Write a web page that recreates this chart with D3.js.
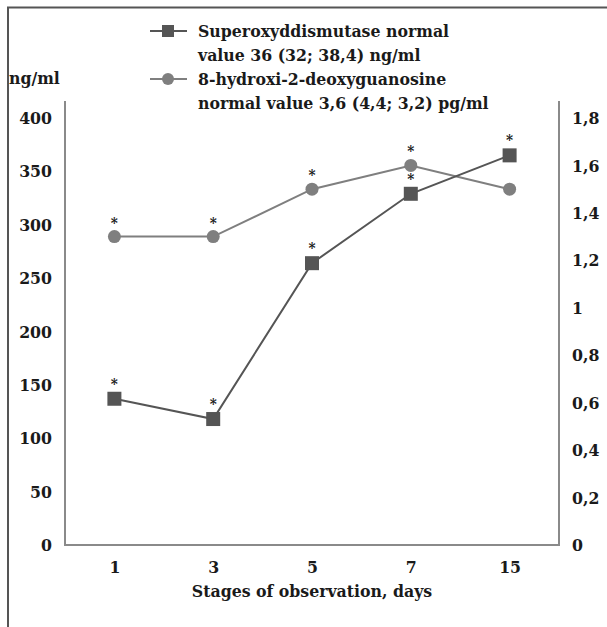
<!DOCTYPE html>
<html>
<head>
<meta charset="utf-8">
<script src="https://cdn.jsdelivr.net/npm/d3@7"></script>
<style>
  html, body { margin: 0; padding: 0; background: #fff; }
  #main { width: 607px; height: 627px; }
  text { font-family: "DejaVu Serif Condensed", "DejaVu Serif", serif; font-stretch: condensed; font-weight: bold; fill: #1a1a1a; }
</style>
</head>
<body>
<div id="main"></div>
<script>
// stages of observation (days)
const days = ["1", "3", "5", "7", "15"];
// Superoxyddismutase, ng/ml (left axis)
const sodValues = [137, 118, 264, 329, 365];
// 8-hydroxi-2-deoxyguanosine, pg/ml (right axis)
const ohdgValues = [1.3, 1.3, 1.5, 1.6, 1.5];
// significance marks (*) above each point
const sodStars = [true, true, true, true, true];
const ohdgStars = [true, true, true, true, false];
const leftTicks = [0, 50, 100, 150, 200, 250, 300, 350, 400];
const rightTicks = [0, 0.2, 0.4, 0.6, 0.8, 1, 1.2, 1.4, 1.6, 1.8];

function drawChart() {
    d3.select("#main svg").remove();

    const width = 607, height = 627;
    const left = 65, right = 559, bottom = 545, top = 118, axisTop = 101;
    const fontFam = "'DejaVu Serif Condensed', 'DejaVu Serif', serif";

    const svg = d3.select("#main").append("svg")
        .attr("width", width)
        .attr("height", height);

    // outer frame (only top and left edges are visible)
    svg.append("path")
        .attr("d", "M8,627V7.5H607")
        .attr("fill", "none")
        .attr("stroke", "#555")
        .attr("stroke-width", 2);

    const x = d3.scalePoint().domain(days).range([left, right]).padding(0.5);
    const yLeft = d3.scaleLinear().domain([0, 400]).range([bottom, top]);
    const yRight = d3.scaleLinear().domain([0, 1.8]).range([bottom, top]);

    // plot box lines
    svg.append("path")
        .attr("d", `M${left},${axisTop}V${bottom}H${right}V${axisTop}`)
        .attr("fill", "none")
        .attr("stroke", "#8a8a8a")
        .attr("stroke-width", 2);

    const fmt = d => String(d).replace(".", ",");

    function styleLabels(sel) {
        sel.style("font-family", fontFam)
            .style("font-stretch", "condensed")
            .style("font-weight", "bold")
            .style("font-size", "17.5px")
            .attr("fill", "#1a1a1a");
    }

    // left axis labels
    svg.append("g")
        .attr("transform", `translate(${left},0)`)
        .call(d3.axisLeft(yLeft).tickValues(leftTicks).tickSize(0).tickPadding(13))
        .call(g => g.select(".domain").remove())
        .selectAll("text").call(styleLabels);

    // right axis labels
    svg.append("g")
        .attr("transform", `translate(${right},0)`)
        .call(d3.axisRight(yRight).tickValues(rightTicks).tickSize(0).tickPadding(13).tickFormat(fmt))
        .call(g => g.select(".domain").remove())
        .selectAll("text").call(styleLabels);

    // bottom axis labels
    svg.append("g")
        .attr("transform", `translate(0,${bottom})`)
        .call(d3.axisBottom(x).tickSize(0).tickPadding(16))
        .call(g => g.select(".domain").remove())
        .selectAll("text").call(styleLabels);

    svg.append("text")
        .attr("x", (left + right) / 2)
        .attr("y", 597)
        .attr("text-anchor", "middle")
        .style("font-size", "17.5px")
        .text("Stages of observation, days");

    svg.append("text")
        .attr("x", 9)
        .attr("y", 84)
        .style("font-size", "17.5px")
        .text("ng/ml");

    // 8-OHdG series (circles, lighter)
    const ohdgColor = "#7f7f7f";
    svg.append("path")
        .datum(ohdgValues)
        .attr("fill", "none")
        .attr("stroke", ohdgColor)
        .attr("stroke-width", 2)
        .attr("d", d3.line().x((d, i) => x(days[i])).y(d => yRight(d)));

    svg.append("g").selectAll("circle")
        .data(ohdgValues)
        .join("circle")
        .attr("cx", (d, i) => x(days[i]))
        .attr("cy", d => yRight(d))
        .attr("r", 6.5)
        .attr("fill", ohdgColor);

    // SOD series (squares, darker)
    const sodColor = "#555";
    svg.append("path")
        .datum(sodValues)
        .attr("fill", "none")
        .attr("stroke", sodColor)
        .attr("stroke-width", 2)
        .attr("d", d3.line().x((d, i) => x(days[i])).y(d => yLeft(d)));

    svg.append("g").selectAll("rect")
        .data(sodValues)
        .join("rect")
        .attr("x", (d, i) => x(days[i]) - 7)
        .attr("y", d => yLeft(d) - 7)
        .attr("width", 14)
        .attr("height", 14)
        .attr("fill", sodColor);

    // significance asterisks
    const stars = svg.append("g").style("font-size", "15px");
    stars.selectAll("text.s1")
        .data(ohdgValues.map((v, i) => ({ v, i })).filter(d => ohdgStars[d.i]))
        .join("text")
        .attr("class", "s1")
        .attr("x", d => x(days[d.i]))
        .attr("y", d => yRight(d.v) - 9)
        .attr("text-anchor", "middle")
        .text("*");
    stars.selectAll("text.s2")
        .data(sodValues.map((v, i) => ({ v, i })).filter(d => sodStars[d.i]))
        .join("text")
        .attr("class", "s2")
        .attr("x", d => x(days[d.i]))
        .attr("y", d => yLeft(d.v) - 10)
        .attr("text-anchor", "middle")
        .text("*");

    // legend
    const legend = svg.append("g").style("font-size", "17.5px");
    legend.append("line")
        .attr("x1", 150).attr("x2", 187).attr("y1", 31).attr("y2", 31)
        .attr("stroke", sodColor).attr("stroke-width", 2);
    legend.append("rect")
        .attr("x", 162).attr("y", 25).attr("width", 12).attr("height", 12)
        .attr("fill", sodColor);
    legend.append("text").attr("x", 198).attr("y", 37).text("Superoxyddismutase normal");
    legend.append("text").attr("x", 198).attr("y", 61).text("value 36 (32; 38,4) ng/ml");

    legend.append("line")
        .attr("x1", 150).attr("x2", 187).attr("y1", 79).attr("y2", 79)
        .attr("stroke", ohdgColor).attr("stroke-width", 2);
    legend.append("circle")
        .attr("cx", 168).attr("cy", 79).attr("r", 6)
        .attr("fill", ohdgColor);
    legend.append("text").attr("x", 198).attr("y", 85).text("8-hydroxi-2-deoxyguanosine");
    legend.append("text").attr("x", 198).attr("y", 109).text("normal value 3,6 (4,4; 3,2) pg/ml");
}

document.addEventListener("DOMContentLoaded", drawChart);
</script>
</body>
</html>
